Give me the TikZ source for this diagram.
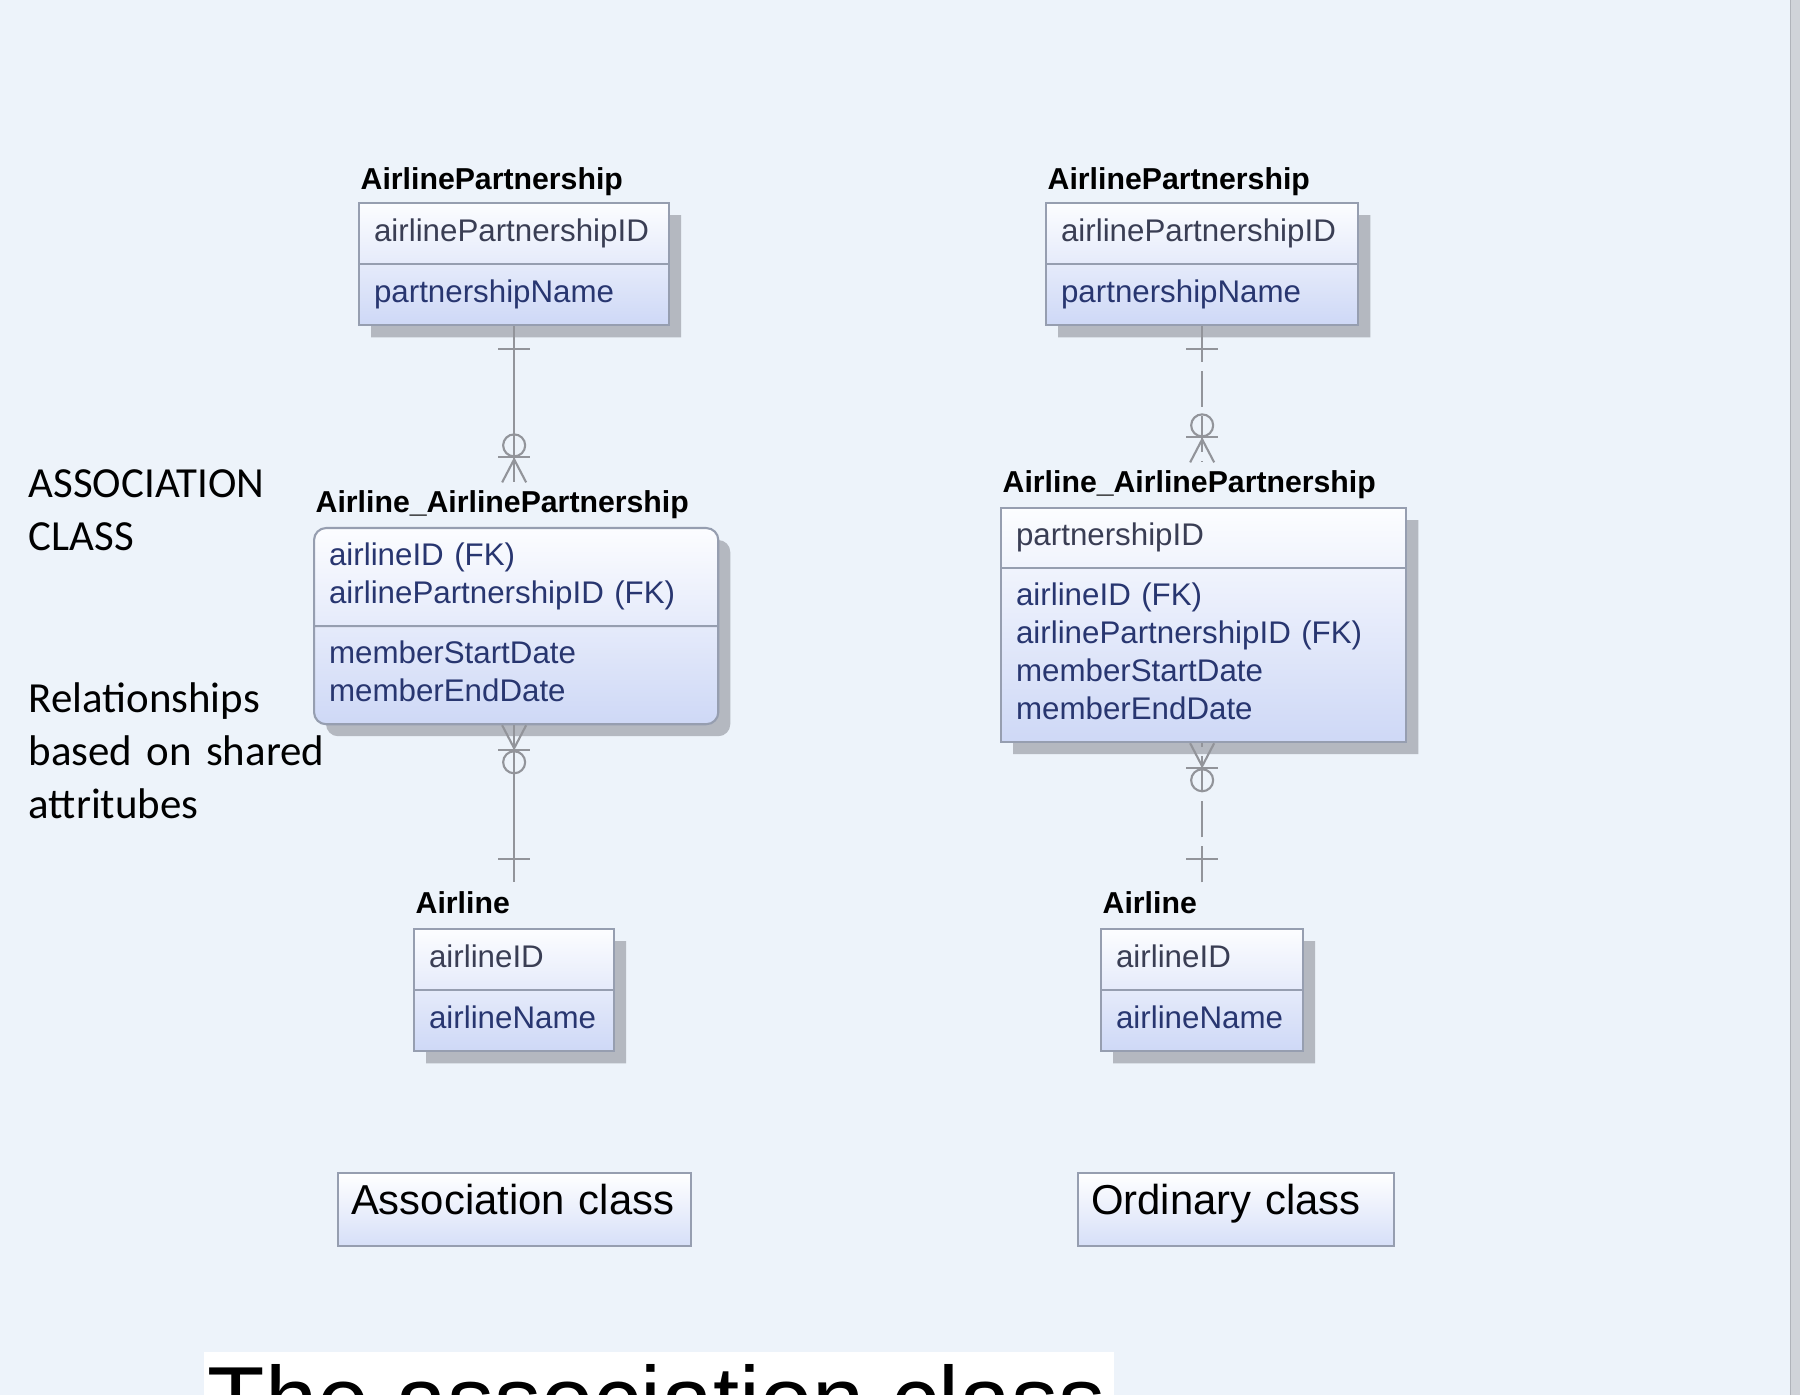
\documentclass[tikz,border=0pt]{standalone}
\usepackage{fontspec}
\setmainfont{Liberation Sans}
\newfontfamily\notefont{Carlito}
\usetikzlibrary{shapes.multipart,shadows}

\definecolor{bgblue}{RGB}{237,243,250}
\definecolor{edgegray}{RGB}{208,211,217}
\definecolor{edgeline}{RGB}{176,179,186}
\definecolor{boxtop}{RGB}{252,253,255}
\definecolor{boxbot}{RGB}{206,216,246}
\definecolor{boxline}{RGB}{150,158,176}
\definecolor{shade}{RGB}{180,184,192}
\definecolor{pkcol}{RGB}{58,62,84}
\definecolor{attcol}{RGB}{40,54,112}
\definecolor{relcol}{RGB}{146,148,154}
\definecolor{btnbot}{RGB}{214,223,248}

\begin{document}
\begin{tikzpicture}[x=0.01cm, y=-0.01cm,
    entbox/.style={rectangle split, rectangle split parts=2, anchor=north west,
      draw=boxline, line width=0.6pt, top color=boxtop, bottom color=boxbot,
      align=left, inner xsep=0.15cm, inner ysep=0.105cm, text=attcol,
      font=\fontsize{8.9}{10.8}\selectfont,
      drop shadow={shadow xshift=0.12cm, shadow yshift=-0.12cm, fill=shade, opacity=1}},
    entname/.style={anchor=base west, inner sep=0pt, font=\fontsize{8.6}{10}\selectfont\bfseries},
    relline/.style={draw=relcol, line width=0.6pt},
    btn/.style={anchor=north west, draw=boxline, line width=0.6pt, top color=white,
      bottom color=btnbot, align=left, inner xsep=0.13cm, inner ysep=0.15cm,
      text height=0.26cm, text depth=0.17cm, font=\fontsize{11.9}{14}\selectfont},
    notetext/.style={anchor=base west, align=left, inner sep=0pt, text width=3.5cm,
      font=\notefont\fontsize{12.2}{15}\selectfont}]
  % page
  \useasboundingbox (0,0) rectangle (1800,1395);
  \clip (0,0) rectangle (1800,1395);
  \fill[bgblue] (0,0) rectangle (1800,1395);
  \fill[edgegray] (1790,0) rectangle (1800,1395);
  \draw[edgeline] (1790.5,0) -- (1790.5,1395);

  % left: association class
  \node[entbox, text width=2.8cm] (ap) at (358,202)
    {{\color{pkcol}\strut airlinePartnershipID}\nodepart{two}\strut partnershipName};
  \node[entname] (apT) at ([shift={(2,-12)}]ap.north west) {AirlinePartnership};
  \node[entbox, text width=3.74cm, rounded corners=0.12cm, inner ysep=0.1cm] (aap) at (313,527)
    {\strut airlineID (FK)\\\strut airlinePartnershipID (FK)\nodepart{two}\strut memberStartDate\\\strut memberEndDate};
  \node[entname] (aapT) at ([shift={(2,-14)}]aap.north west) {Airline\_AirlinePartnership};
  \node[entbox, text width=1.7cm] (al) at (413,928)
    {{\color{pkcol}\strut airlineID}\nodepart{two}\strut airlineName};
  \node[entname] (alT) at ([shift={(2,-15)}]al.north west) {Airline};
  \node[btn, text width=3.27cm] (btnA) at (337,1172) {Association class};

  % right: ordinary class
  \node[entbox, text width=2.82cm] (ap2) at (1045,202)
    {{\color{pkcol}\strut airlinePartnershipID}\nodepart{two}\strut partnershipName};
  \node[entname] (ap2T) at ([shift={(2,-12)}]ap2.north west) {AirlinePartnership};
  \node[entbox, text width=3.75cm, inner ysep=0.1cm] (aap2) at (1000,507)
    {{\color{pkcol}\strut partnershipID}\nodepart{two}\strut airlineID (FK)\\\strut airlinePartnershipID (FK)\\\strut memberStartDate\\\strut memberEndDate};
  \node[entname] (aap2T) at ([shift={(2,-14)}]aap2.north west) {Airline\_AirlinePartnership};
  \node[entbox, text width=1.72cm] (al2) at (1100,928)
    {{\color{pkcol}\strut airlineID}\nodepart{two}\strut airlineName};
  \node[entname] (al2T) at ([shift={(2,-15)}]al2.north west) {Airline};
  \node[btn, text width=2.9cm] (btnO) at (1077,1172) {Ordinary class};

  % relationships, left
  \coordinate (e1) at (ap.south |- aapT.north);
  \coordinate (m1) at ([yshift=0.08cm]e1);
  \draw[relline] (ap.south) -- (m1);
  \draw[relline] ([shift={(-16,23)}]ap.south) -- ++(32,0);
  \draw[relline] ([shift={(-12,0)}]m1) -- ([shift={(0,-23)}]m1) -- ([shift={(12,0)}]m1);
  \draw[relline] ([shift={(-16,-25)}]m1) -- ++(32,0);
  \draw[relline] ([shift={(0,-37)}]m1) circle[radius=0.11cm];

  \coordinate (s2) at (ap.south |- aap.south);
  \coordinate (e2) at (ap.south |- alT.north);
  \coordinate (m2) at ([yshift=0.08cm]e2);
  \draw[relline] (s2) -- (m2);
  \draw[relline] ([shift={(-12,0)}]s2) -- ([shift={(0,23)}]s2) -- ([shift={(12,0)}]s2);
  \draw[relline] ([shift={(-16,25)}]s2) -- ++(32,0);
  \draw[relline] ([shift={(0,37)}]s2) circle[radius=0.11cm];
  \draw[relline] ([shift={(-16,-23)}]m2) -- ++(32,0);

  % relationships, right (dashed)
  \coordinate (e3) at (ap2.south |- aap2T.north);
  \coordinate (m3) at ([yshift=0.08cm]e3);
  \draw[relline, dash pattern=on 0.36cm off 0.09cm] (ap2.south) -- (m3);
  \draw[relline] ([shift={(-16,23)}]ap2.south) -- ++(32,0);
  \draw[relline] ([shift={(-12,0)}]m3) -- ([shift={(0,-23)}]m3) -- ([shift={(12,0)}]m3);
  \draw[relline] ([shift={(-16,-25)}]m3) -- ++(32,0);
  \draw[relline] ([shift={(0,-37)}]m3) circle[radius=0.11cm];

  \coordinate (s4) at (ap2.south |- aap2.south);
  \coordinate (e4) at (ap2.south |- al2T.north);
  \coordinate (m4) at ([yshift=0.08cm]e4);
  \draw[relline, dash pattern=on 0.36cm off 0.09cm] (m4) -- (s4);
  \draw[relline] ([shift={(-12,0)}]s4) -- ([shift={(0,23)}]s4) -- ([shift={(12,0)}]s4);
  \draw[relline] ([shift={(-16,25)}]s4) -- ++(32,0);
  \draw[relline] ([shift={(0,37)}]s4) circle[radius=0.11cm];
  \draw[relline] ([shift={(-16,-23)}]m4) -- ++(32,0);

  % notes
  \node[notetext] (acls) at (28,498) {ASSOCIATION\\CLASS};
  \node[notetext] (rels) at (28,713) {Relationships\\based on shared\\attritubes};

  % caption, cut off at the bottom
  \fill[white] (204,1352) rectangle (1114,1400);
  \node[anchor=base west, inner sep=0pt, font=\fontsize{26.7}{30}\selectfont] (capt) at (207,1432) {The association class};
\end{tikzpicture}
\end{document}
